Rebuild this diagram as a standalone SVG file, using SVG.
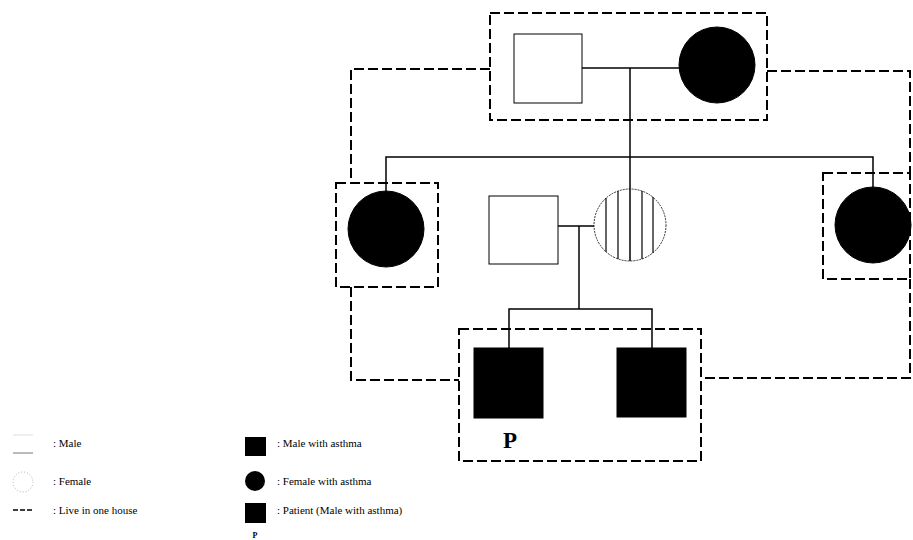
<svg xmlns="http://www.w3.org/2000/svg" width="913" height="540" viewBox="0 0 913 540">
<style>
.house{fill:none;stroke:#000;stroke-width:2;stroke-dasharray:10,4}
.link{fill:none;stroke:#000;stroke-width:1.5}
.m{fill:#fff;stroke:#000;stroke-width:1}
.a{fill:#000;stroke:#000}
.t{font-family:"Liberation Serif","Times New Roman",serif;font-size:11px;fill:#000}
.p{font-family:"Liberation Serif","Times New Roman",serif;font-weight:bold;font-size:23px;fill:#000}
</style>
<rect width="913" height="540" fill="#fff"/>
<g id="houses">
<rect class="house" x="490" y="13" width="277" height="107"/>
<rect class="house" x="336" y="183" width="102" height="104"/>
<rect class="house" x="823" y="173" width="87" height="106"/>
<rect class="house" x="459" y="329" width="242" height="132"/>
<path class="house" d="M490,69 H351 V183"/>
<path class="house" d="M767,71 H910 V173"/>
<path class="house" d="M351,287 V380 H459"/>
<path class="house" d="M910,279 V378 H701"/>
</g>
<g id="connectors">
<path class="link" d="M582,68 H680"/>
<path class="link" d="M630,68 V261"/>
<path class="link" d="M386,191 V157 H873 V187"/>
<path class="link" d="M558,226 H594"/>
<path class="link" d="M579,226 V309"/>
<path class="link" d="M509,348 V309 H652 V348"/>
</g>
<g id="grandfather"><rect class="m" x="514" y="34" width="68" height="69"/></g>
<g id="grandmother"><circle class="a" cx="717" cy="65" r="38"/></g>
<g id="aunt-left"><circle class="a" cx="386" cy="229" r="38"/></g>
<g id="aunt-right"><circle class="a" cx="873" cy="225" r="38"/></g>
<g id="father"><rect class="m" x="489" y="196" width="69" height="68"/></g>
<g id="mother">
<circle cx="630" cy="225" r="36" fill="none" stroke="#000" stroke-width="0.8" stroke-dasharray="2,1"/>
<g stroke="#000" stroke-width="1.2">
<line x1="606" y1="198" x2="606" y2="252"/>
<line x1="618" y1="191" x2="618" y2="259"/>
<line x1="642" y1="191" x2="642" y2="259"/>
<line x1="653" y1="197" x2="653" y2="253"/>
</g>
</g>
<g id="patient"><rect class="a" x="474" y="348" width="69" height="70"/><text class="p" x="510" y="448" text-anchor="middle">P</text></g>
<g id="brother"><rect class="a" x="617" y="348" width="69" height="69"/></g>
<g id="legend">
<line x1="13" y1="435" x2="33" y2="435" stroke="#ddd" stroke-width="1"/>
<line x1="13" y1="453" x2="33" y2="453" stroke="#777" stroke-width="1"/>
<text class="t" x="53" y="447">: Male</text>
<circle cx="23" cy="482" r="10" fill="none" stroke="#999" stroke-width="0.8" stroke-dasharray="1,2"/>
<text class="t" x="53" y="485">: Female</text>
<line x1="13" y1="510" x2="32" y2="510" stroke="#000" stroke-width="1.5" stroke-dasharray="5,2"/>
<text class="t" x="53" y="514">: Live in one house</text>
<rect x="245" y="437" width="21" height="19" fill="#000"/>
<text class="t" x="277" y="447">: Male with asthma</text>
<circle cx="255" cy="481" r="10" fill="#000"/>
<text class="t" x="277" y="485">: Female with asthma</text>
<rect x="245" y="503" width="21" height="20" fill="#000"/>
<text class="t" x="277" y="514">: Patient (Male with asthma)</text>
<text x="255" y="538" text-anchor="middle" font-family="Liberation Serif, serif" font-weight="bold" font-size="8">P</text>
</g>
</svg>
